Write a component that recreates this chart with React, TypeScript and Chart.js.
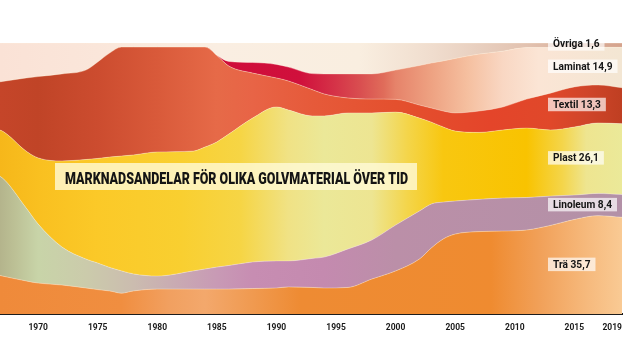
import React, { useEffect, useRef } from 'react';
import { Chart, registerables } from 'chart.js';

Chart.register(...registerables);

// ---- Data (market share %, stacked bottom -> top) ----
const years = [1966, 1967, 1969, 1970, 1972, 1974, 1975, 1976, 1977, 1978, 1980, 1983, 1984, 1985, 1986, 1988, 1990, 1991, 1993, 1994, 1996, 1998, 2000, 2002, 2003, 2004, 2005, 2007, 2009, 2011, 2013, 2015, 2017, 2019];
const tra = [15.1, 14.0, 12.2, 11.4, 10.7, 9.6, 9.0, 8.5, 7.7, 8.5, 9.2, 9.2, 9.2, 9.2, 9.2, 9.4, 9.6, 10.0, 9.8, 9.6, 9.8, 12.9, 15.9, 20.3, 24.4, 27.7, 29.5, 30.4, 30.6, 31.0, 32.7, 34.9, 36.3, 35.7];
const linoleum = [36.9, 36.2, 26.9, 21.8, 14.0, 10.7, 9.8, 8.7, 8.2, 6.3, 4.8, 6.7, 7.4, 8.1, 8.7, 9.8, 10.0, 9.6, 10.7, 11.4, 14.2, 14.4, 16.9, 17.7, 16.2, 13.6, 12.2, 11.9, 12.2, 12.0, 10.8, 9.0, 8.2, 8.4];
const plast = [16.6, 17.3, 21.0, 24.4, 31.8, 36.7, 38.6, 40.7, 42.4, 43.9, 45.8, 44.2, 45.0, 46.2, 48.5, 53.1, 56.8, 55.7, 52.6, 52.1, 50.2, 46.9, 41.7, 34.3, 30.2, 27.7, 25.8, 24.7, 25.1, 25.6, 24.4, 25.1, 26.0, 26.1];
const textil = [16.6, 18.3, 27.0, 30.0, 32.1, 33.0, 35.6, 38.4, 40.2, 39.8, 38.7, 38.4, 36.9, 31.9, 25.1, 16.6, 10.7, 10.7, 9.7, 8.1, 5.5, 5.1, 4.7, 4.8, 5.2, 5.9, 6.7, 7.9, 8.5, 10.7, 13.6, 14.8, 14.0, 13.3];
const laminat = [0, 0, 0, 0, 0, 0, 0, 0, 0, 0, 0, 0, 0, 0, 1.7, 3.9, 5.0, 5.1, 5.9, 7.4, 8.9, 9.3, 10.8, 14.6, 16.6, 18.5, 20.1, 21.0, 20.6, 19.0, 16.8, 14.5, 13.9, 14.9];
const ovriga = [14.8, 14.2, 12.9, 12.4, 11.4, 10.0, 7.0, 3.7, 1.5, 1.5, 1.5, 1.5, 1.5, 4.6, 6.8, 7.2, 7.9, 8.9, 11.3, 11.4, 11.4, 11.4, 10.0, 8.3, 7.4, 6.6, 5.7, 4.1, 3.0, 1.7, 1.7, 1.7, 1.6, 1.6];

const seriesNames = ['Trä', 'Linoleum', 'Plast', 'Textil', 'Laminat', 'Övriga'];
const seriesValues = [tra, linoleum, plast, textil, laminat, ovriga];
const tickYears = [1970, 1975, 1980, 1985, 1990, 1995, 2000, 2005, 2010, 2015, 2019];
const chartTitle = 'MARKNADSANDELAR FÖR OLIKA GOLVMATERIAL ÖVER TID';

const X_MIN = 1966.8;
const X_MAX = 2019;

// ---- Styles: horizontal colour gradients keyed by year ----
type Stop = [number, string];
const gradientStops: Stop[][] = [
  // Trä
  [[1966.8, '#ef8a3a'], [1977, '#f08e40'], [1981, '#f1a060'], [1984, '#f3a86c'], [1988, '#f09a50'], [1992, '#ee8b33'], [2008, '#ef8b30'], [2012, '#f1a058'], [2016, '#f6b97c'], [2019, '#f9ca94']],
  // Linoleum
  [[1966.8, '#b4b48c'], [1968, '#bcc095'], [1970, '#c8d4a8'], [1974, '#cbcbab'], [1978, '#cbbcaf'], [1981, '#c9adb2'], [1985, '#c89ab5'], [1988, '#c78db2'], [1994, '#c48aaf'], [2000, '#bb8fa8'], [2019, '#b391a7']],
  // Plast
  [[1966.8, '#f6b71a'], [1970, '#f9c020'], [1975, '#fbc928'], [1982, '#f9cf30'], [1987, '#f6d545'], [1991, '#f0e285'], [1994, '#ebe898'], [1998, '#ede592'], [2001, '#f4d54a'], [2004, '#f8c710'], [2011, '#f9c300'], [2014, '#f4d54a'], [2016, '#eee590'], [2019, '#ebe999']],
  // Textil
  [[1966.8, '#c54529'], [1970, '#c04427'], [1975, '#cc4c2f'], [1980, '#d95a3a'], [1985, '#e66a48'], [1988, '#e86446'], [1993, '#e65a3a'], [2000, '#e4502e'], [2008, '#e4452a'], [2013, '#e0482a'], [2016, '#d0452a'], [2019, '#bf3f22']],
  // Laminat
  [[1985, '#cf0c3a'], [1992, '#d0103c'], [1995, '#d53448'], [1997, '#d94e50'], [1999, '#e06c5a'], [2000, '#e6836a'], [2003, '#eea282'], [2006, '#f5bf9f'], [2009, '#f9d7c3'], [2012, '#fbe5d5'], [2019, '#f3e6d3']],
  // Övriga
  [[1966.8, '#fae2d6'], [1975, '#fae6da'], [1985, '#faeee2'], [1997, '#f9eee0'], [2003, '#f0ddce'], [2007, '#e8cfbf'], [2011, '#e2c2b0'], [2015, '#dab09c'], [2019, '#d5a38d']],
];

function makeGradient(chart: any, stops: Stop[]) {
  const area = chart.chartArea;
  if (!area) return stops[0][1];
  const xs = chart.scales.x;
  const g = chart.ctx.createLinearGradient(area.left, 0, area.right, 0);
  const w = area.right - area.left;
  stops.forEach(([yr, col]) => {
    const f = Math.min(1, Math.max(0, (xs.getPixelForValue(yr) - area.left) / w));
    g.addColorStop(f, col);
  });
  return g;
}

const overlayPlugin = {
  id: 'overlay',
  afterDraw(chart: any) {
    const ctx = chart.ctx;
    const ys = chart.scales.y;

    // Title box
    ctx.save();
    ctx.fillStyle = 'rgba(255,250,215,0.8)';
    ctx.fillRect(55, 163, 362, 27);
    ctx.font = '900 17px Roboto, "DejaVu Sans", sans-serif';
    const tw = ctx.measureText(chartTitle).width;
    ctx.translate(65, 184);
    ctx.scale(343 / tw, 1);
    ctx.fillStyle = '#141414';
    ctx.textBaseline = 'alphabetic';
    ctx.fillText(chartTitle, 0, 0);
    ctx.restore();

    // End labels
    ctx.save();
    ctx.font = 'bold 10.5px Roboto, "DejaVu Sans", sans-serif';
    const ref = ctx.measureText('Linoleum 8,4').width;
    const sx = 59 / ref;
    let cum = 0;
    const last = years.length - 1;
    seriesValues.forEach((arr, i) => {
      const v = arr[last];
      const center = ys.getPixelForValue(cum + v / 2) - 1.5;
      cum += v;
      const text = `${seriesNames[i]} ${v.toFixed(1).replace('.', ',')}`;
      const w = ctx.measureText(text).width * sx;
      ctx.fillStyle = 'rgba(255,255,255,0.68)';
      ctx.fillRect(548, center - 6.5, w + 10, 13.5);
      ctx.save();
      ctx.translate(553, center + 3.8);
      ctx.scale(sx, 1);
      ctx.fillStyle = '#141414';
      ctx.textBaseline = 'alphabetic';
      ctx.fillText(text, 0, 0);
      ctx.restore();
    });
    ctx.restore();
  },
};

export default function App() {
  const canvasRef = useRef<HTMLCanvasElement | null>(null);

  useEffect(() => {
    if (!canvasRef.current) return;
    const datasets = seriesValues.map((arr, i) => ({
      label: seriesNames[i],
      data: years.map((yr, k) => ({ x: yr, y: arr[k] })),
      fill: i === 0 ? 'origin' : '-1',
      backgroundColor: (c: any) => makeGradient(c.chart, gradientStops[i]),
      borderColor: 'rgba(255,245,220,0.45)',
      borderWidth: 0.8,
      pointRadius: 0,
      cubicInterpolationMode: 'monotone' as const,
      clip: 0,
    }));

    const chart = new Chart(canvasRef.current, {
      type: 'line',
      data: { datasets },
      options: {
        animation: false,
        responsive: false,
        devicePixelRatio: 1,
        layout: { padding: { left: 0, right: 5, top: 43, bottom: 0 } },
        plugins: { legend: { display: false }, tooltip: { enabled: false } },
        scales: {
          x: {
            type: 'linear',
            min: X_MIN,
            max: X_MAX,
            z: 1,
            grid: {
              display: true,
              drawOnChartArea: false,
              drawTicks: true,
              tickLength: 9,
              color: 'rgba(0,0,0,0)',
            },
            border: { display: true, color: '#1c1c1c', width: 2 },
            afterBuildTicks: (scale: any) => {
              scale.ticks = [{ value: X_MIN }, ...tickYears.map((v) => ({ value: v }))];
            },
            afterFit: (scale: any) => {
              scale.height = 38;
            },
            ticks: {
              autoSkip: false,
              maxRotation: 0,
              align: 'inner',
              padding: 0,
              color: '#1a1a1a',
              font: { family: 'Roboto', weight: 'bold', size: 8.5 },
              callback: (v: any, idx: number) => (idx === 0 ? '' : String(v)),
            },
          },
          y: {
            display: false,
            stacked: true,
            min: 0,
            max: 100,
          },
        },
      },
      plugins: [overlayPlugin],
    } as any);

    return () => chart.destroy();
  }, []);

  return (
    <div style={{ position: 'absolute', left: 0, top: 0, width: 627, height: 352, background: '#fff' }}>
      <canvas ref={canvasRef} width={627} height={352} style={{ display: 'block' }} />
    </div>
  );
}
